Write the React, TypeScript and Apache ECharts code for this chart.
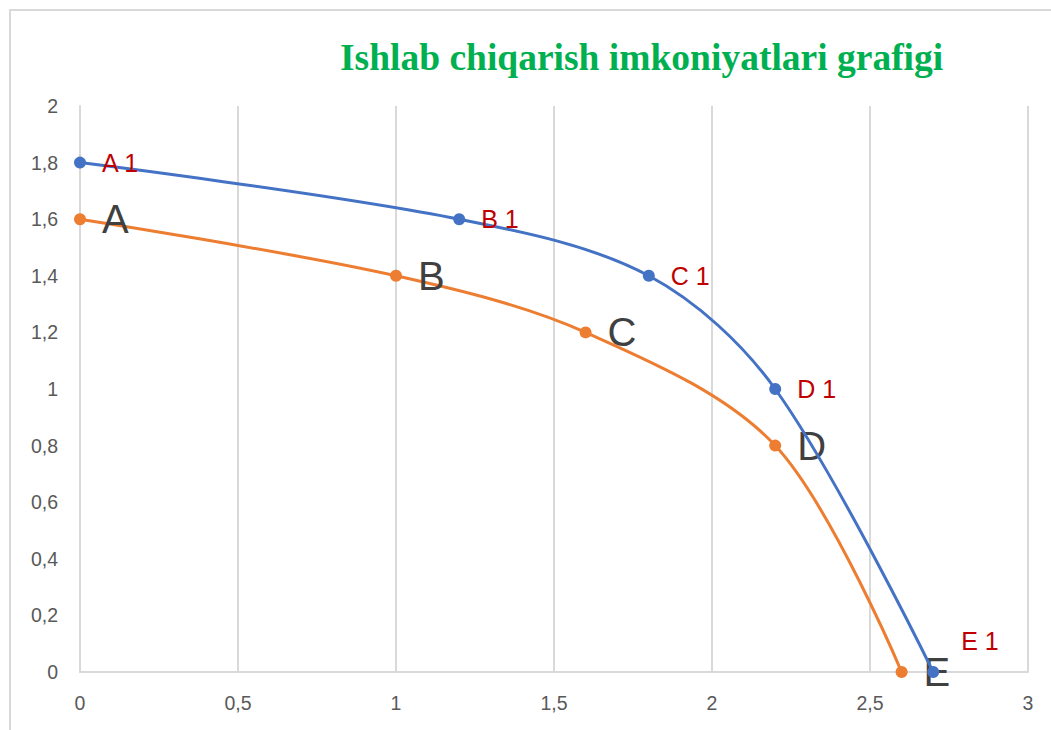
import React, { useEffect, useRef } from "react";
import * as echarts from "echarts";

const titleText = "Ishlab chiqarish imkoniyatlari grafigi";

const blueX = [0, 1.2, 1.8, 2.2, 2.7];
const blueY = [1.8, 1.6, 1.4, 1, 0];
const blueLabels = ["A 1", "B 1", "C 1", "D 1", "E 1"];

const orangeX = [0, 1, 1.6, 2.2, 2.6];
const orangeY = [1.6, 1.4, 1.2, 0.8, 0];
const orangeLabels = ["A", "B", "C", "D", "E"];

const comma = (v: number) => String(v).replace(".", ",");

export default function App() {
  const ref = useRef<HTMLDivElement>(null);
  useEffect(() => {
    if (!ref.current) return;
    const chart = echarts.init(ref.current, null, { renderer: "svg" });
    const blueData = blueX.map((x, i) => {
      const item: any = { value: [x, blueY[i]], name: blueLabels[i] };
      if (i === blueX.length - 1) {
        item.label = { offset: [6, -31] };
      }
      return item;
    });
    const orangeData = orangeX.map((x, i) => ({ value: [x, orangeY[i]], name: orangeLabels[i] }));
    chart.setOption({
      animation: false,
      backgroundColor: "#ffffff",
      title: {
        text: titleText,
        left: 335,
        top: 33,
        textStyle: {
          fontFamily: "Liberation Serif",
          fontWeight: "bold",
          fontSize: 37.5,
          color: "#00b050",
        },
      },
      graphic: [
        { type: "line", shape: { x1: 9, y1: 10, x2: 1051, y2: 10 }, style: { stroke: "#d9d9d9", lineWidth: 2 } },
        { type: "line", shape: { x1: 10, y1: 10, x2: 10, y2: 730 }, style: { stroke: "#d9d9d9", lineWidth: 2 } },
      ],
      grid: { left: 80, right: 23, top: 106, bottom: 58 },
      xAxis: {
        type: "value",
        min: 0,
        max: 3,
        interval: 0.5,
        axisLine: { show: true, lineStyle: { color: "#d9d9d9", width: 2 } },
        axisTick: { show: false },
        splitLine: { show: true, lineStyle: { color: "#d9d9d9", width: 2 } },
        axisLabel: {
          formatter: comma,
          color: "#595959",
          fontSize: 19.5,
          fontFamily: "Liberation Sans",
          margin: 21,
        },
      },
      yAxis: {
        type: "value",
        min: 0,
        max: 2,
        interval: 0.2,
        axisLine: { show: true, lineStyle: { color: "#d9d9d9", width: 2 } },
        axisTick: { show: false },
        splitLine: { show: false },
        axisLabel: {
          formatter: comma,
          color: "#595959",
          fontSize: 19.5,
          fontFamily: "Liberation Sans",
          margin: 22,
        },
      },
      series: [
        {
          type: "line",
          data: blueData,
          smooth: 0.33,
          symbol: "circle",
          symbolSize: 12,
          lineStyle: { color: "#4472c4", width: 3 },
          itemStyle: { color: "#4472c4" },
          label: {
            show: true,
            position: "right",
            distance: 16,
            formatter: (p: any) => p.name,
            color: "#c00000",
            fontSize: 25,
            fontFamily: "Liberation Sans",
          },
          z: 3,
        },
        {
          type: "line",
          data: orangeData,
          smooth: 0.33,
          symbol: "circle",
          symbolSize: 12,
          lineStyle: { color: "#ed7d31", width: 3 },
          itemStyle: { color: "#ed7d31" },
          label: {
            show: true,
            position: "right",
            distance: 16,
            formatter: (p: any) => p.name,
            color: "#404040",
            fontSize: 40,
            fontFamily: "Liberation Sans",
          },
          z: 2,
        },
      ],
    });
    return () => chart.dispose();
  }, []);
  return (
    <div
      ref={ref}
      style={{ position: "absolute", left: 0, top: 0, width: 1051, height: 730 }}
    />
  );
}
